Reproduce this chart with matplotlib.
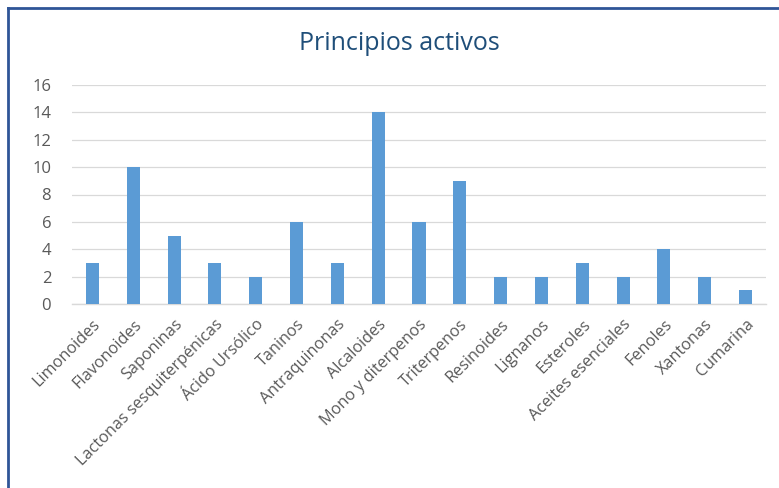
import matplotlib
matplotlib.use("Agg")
import matplotlib.pyplot as plt
from matplotlib.lines import Line2D

categories = ["Limonoides", "Flavonoides", "Saponinas", "Lactonas sesquiterpénicas",
              "Ácido Ursólico", "Taninos", "Antraquinonas", "Alcaloides",
              "Mono y diterpenos", "Triterpenos", "Resinoides", "Lignanos",
              "Esteroles", "Aceites esenciales", "Fenoles", "Xantonas", "Cumarina"]
values = [3, 10, 5, 3, 2, 6, 3, 14, 6, 9, 2, 2, 3, 2, 4, 2, 1]
yticks = [0, 2, 4, 6, 8, 10, 12, 14, 16]

plt.rcParams['font.family'] = ['Open Sans', 'DejaVu Sans']

fig = plt.figure(figsize=(7.79, 4.88), dpi=100)
ax = fig.add_axes([72/779, 1-304/488, (766-72)/779, (304-85)/488])

x = list(range(len(categories)))
ax.bar(x, values, width=0.32, color="#5b9bd5", zorder=3)
ax.set_xlim(-0.5, len(categories)-0.5)
ax.set_ylim(0, 16)
ax.set_yticks(yticks)
ax.set_yticklabels([str(v) for v in yticks], fontsize=12, color="#595959")
ax.yaxis.grid(True, color="#d9d9d9", linewidth=0.9, zorder=0)
ax.set_xticks(x)
ax.set_xticklabels(categories, rotation=45, ha="right", rotation_mode="anchor",
                   fontsize=11.7, color="#595959")
ax.tick_params(axis="x", length=0, pad=9)
ax.tick_params(axis="y", length=0, pad=15)
for s in ["top", "right", "left"]:
    ax.spines[s].set_visible(False)
ax.spines["bottom"].set_color("#d9d9d9")
ax.spines["bottom"].set_linewidth(1)

fig.text(399/779, 1-43/488, "Principios activos", ha="center", va="center",
         fontsize=18, color="#1f4e79")

# frame border
fig.add_artist(Line2D([8/779, 8/779], [0, 1-8/488], transform=fig.transFigure,
                      color="#2f5597", linewidth=2))
fig.add_artist(Line2D([8/779, 1], [1-8/488, 1-8/488], transform=fig.transFigure,
                      color="#2f5597", linewidth=2))

fig.savefig("out.png", dpi=100)
